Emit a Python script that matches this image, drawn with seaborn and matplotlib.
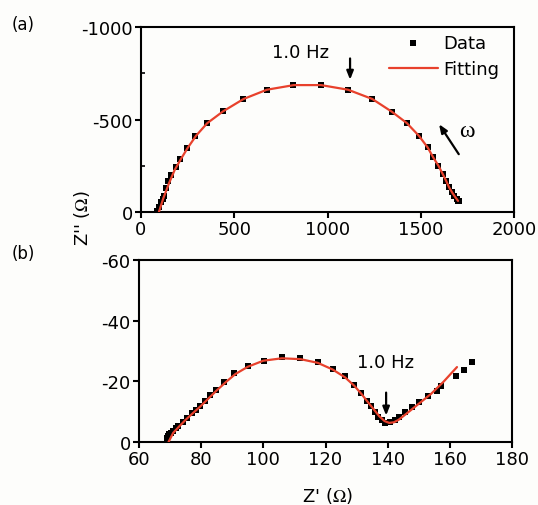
import matplotlib
matplotlib.use("Agg")
import matplotlib.pyplot as plt
import seaborn as sns

# (a) full spectrum: measured points and equivalent-circuit fit
a_data_re = [84, 95, 106, 116, 125, 136, 146, 161, 186, 209, 245, 290, 352, 438, 549,
             674, 817, 965, 1108, 1237, 1344, 1425, 1491, 1537, 1567, 1594, 1617, 1635,
             1651, 1666, 1680, 1693, 1701, 1706]
a_data_im = [-4, -28, -52, -72, -88, -128, -169, -201, -241, -286, -346, -412, -480, -544,
             -611, -661, -686, -686, -661, -611, -542, -481, -412, -349, -295, -250, -205,
             -169, -133, -106, -85, -70, -61, -57]
a_fit_re = [96, 120, 150, 180, 215, 250, 295, 355, 440, 550, 675, 820, 965, 1110, 1240,
            1345, 1425, 1490, 1537, 1567, 1595, 1618, 1636, 1652, 1668, 1682, 1700]
a_fit_im = [0, -75, -155, -226, -288, -346, -412, -480, -544, -611, -661, -686, -686, -661,
            -611, -542, -481, -412, -349, -295, -250, -205, -169, -133, -106, -85, -60]

# (b) high-frequency region
b_data_re = [68.9, 69.3, 69.8, 70.3, 71.0, 71.8, 72.6, 74.0, 75.3, 76.9, 78.2, 79.6, 81.2,
             82.8, 84.8, 87.3, 90.6, 95.1, 100.3, 105.9, 111.8, 117.5, 122.3, 126.3, 129.3,
             131.4, 133.3, 134.6, 135.9, 137.0, 138.1, 139.2, 140.8, 142.4, 143.8, 145.6,
             147.8, 150.2, 152.9, 155.9, 157.0, 161.9, 164.7, 167.0]
b_data_im = [-1.3, -1.9, -2.5, -3.1, -3.7, -4.6, -5.4, -6.5, -7.9, -9.4, -10.7, -12.0, -13.6,
             -15.5, -17.2, -19.7, -22.6, -24.9, -26.8, -27.9, -27.7, -26.5, -24.1, -21.7,
             -18.9, -16.1, -13.6, -11.8, -9.8, -8.2, -7.1, -6.3, -6.5, -7.1, -8.2, -9.8,
             -11.4, -13.3, -15.2, -16.9, -18.6, -21.7, -23.9, -26.4]
b_fit_re = [69.5, 71, 73, 75, 77, 79.6, 82, 85, 88, 91, 95, 100, 106, 112, 117.5, 122.3,
            126.3, 129.3, 131.6, 133.6, 135.5, 137.3, 139, 140.5, 142, 143.5, 146, 150,
            154, 158, 162.3]
b_fit_im = [0, -3, -5.2, -7.3, -9.2, -11.6, -14, -17, -19.8, -22.4, -24.8, -26.8, -27.6,
            -27.3, -26.1, -23.9, -21.3, -18.5, -15.8, -13.2, -10.8, -8.5, -6.9, -6.3, -6.5,
            -7.3, -9.3, -12.6, -15.9, -19.9, -24.7]

a_xticks = [0, 500, 1000, 1500, 2000]
a_yticks = [-1000, -500, 0]
b_xticks = [60, 80, 100, 120, 140, 160, 180]
b_yticks = [-60, -40, -20, 0]

RED = "#e8412c"
BG = "#fdfdfb"

sns.set_style("ticks")
plt.rcParams["font.family"] = ["DejaVu Sans"]
plt.rcParams["axes.unicode_minus"] = False
plt.rcParams["mathtext.fontset"] = "stix"
for key in ("text.color", "axes.labelcolor", "xtick.color", "ytick.color"):
    plt.rcParams[key] = "black"

fig = plt.figure(figsize=(5.38, 5.06), dpi=100, facecolor=BG)
ax1 = fig.add_axes([141 / 538, 1 - 213 / 506, 373 / 538, 185 / 506])
ax2 = fig.add_axes([139 / 538, 1 - 443 / 506, 373 / 538, 182 / 506])


def style_axes(ax, xticks, yticks, xlim, ylim, yminor=None):
    ax.set_facecolor(BG)
    ax.set_xlim(*xlim)
    ax.set_ylim(*ylim)
    ax.set_xticks(xticks)
    ax.set_yticks(yticks)
    if yminor is not None:
        ax.set_yticks(yminor, minor=True)
    for s in ax.spines.values():
        s.set_visible(True)
        s.set_linewidth(1.5)
        s.set_color("black")
    ax.tick_params(which="major", direction="out", length=4, width=1.5,
                   labelsize=13, pad=2, color="black", labelcolor="black")
    ax.tick_params(which="minor", direction="in", length=3, width=1.2, color="black")
    ax.set_xlabel("")
    ax.set_ylabel("")


ARROW = dict(arrowstyle="-|>,head_length=0.5,head_width=0.2", color="black", lw=1.6)

# panel (a)
sns.scatterplot(x=a_data_re, y=a_data_im, ax=ax1, marker="s", color="black", s=13,
                linewidth=0, label="Data", zorder=2)
sns.lineplot(x=a_fit_re, y=a_fit_im, ax=ax1, sort=False, estimator=None, color=RED,
             lw=1.6, label="Fitting", zorder=3)
style_axes(ax1, a_xticks, a_yticks, (0, 2000), (0, -1000), yminor=[-750, -250])
ax1.legend(loc="upper right", bbox_to_anchor=(0.979, 1.0), frameon=False, fontsize=13,
           handlelength=2.7, handletextpad=0.3, labelspacing=0.45, borderaxespad=0.1,
           borderpad=0.3, markerscale=1.3)

ax1.annotate("", xy=(1121, -700), xytext=(1121, -845), arrowprops=ARROW)
ax1.text(853, -865, "1.0 Hz", fontsize=13, ha="center", va="center")
ax1.annotate("", xy=(1590, -487), xytext=(1712, -300), arrowprops=ARROW)
ax1.text(1745, -440, "ω", fontsize=17, ha="center", va="center",
         family=["Liberation Serif", "DejaVu Serif"])

# panel (b)
sns.scatterplot(x=b_data_re, y=b_data_im, ax=ax2, marker="s", color="black", s=13,
                linewidth=0, zorder=2, legend=False)
sns.lineplot(x=b_fit_re, y=b_fit_im, ax=ax2, sort=False, estimator=None, color=RED,
             lw=1.6, zorder=3, legend=False)
style_axes(ax2, b_xticks, b_yticks, (60, 180), (0, -60))
ax2.annotate("", xy=(139.5, -7.8), xytext=(139.5, -17.2), arrowprops=ARROW)
ax2.text(139.4, -26.3, "1.0 Hz", fontsize=13, ha="center", va="center")

# shared labels and panel tags
fig.text(82 / 538, 1 - 218 / 506, r"Z'' ($\Omega$)", rotation=90, fontsize=13,
         ha="center", va="center")
fig.text(327 / 538, 1 - 496 / 506, r"Z' ($\Omega$)", fontsize=13, ha="center", va="center")
fig.text(23 / 538, 1 - 25 / 506, "(a)", fontsize=12, ha="center", va="center")
fig.text(23 / 538, 1 - 254 / 506, "(b)", fontsize=12, ha="center", va="center")

fig.savefig("out.png", dpi=100, facecolor=BG)
